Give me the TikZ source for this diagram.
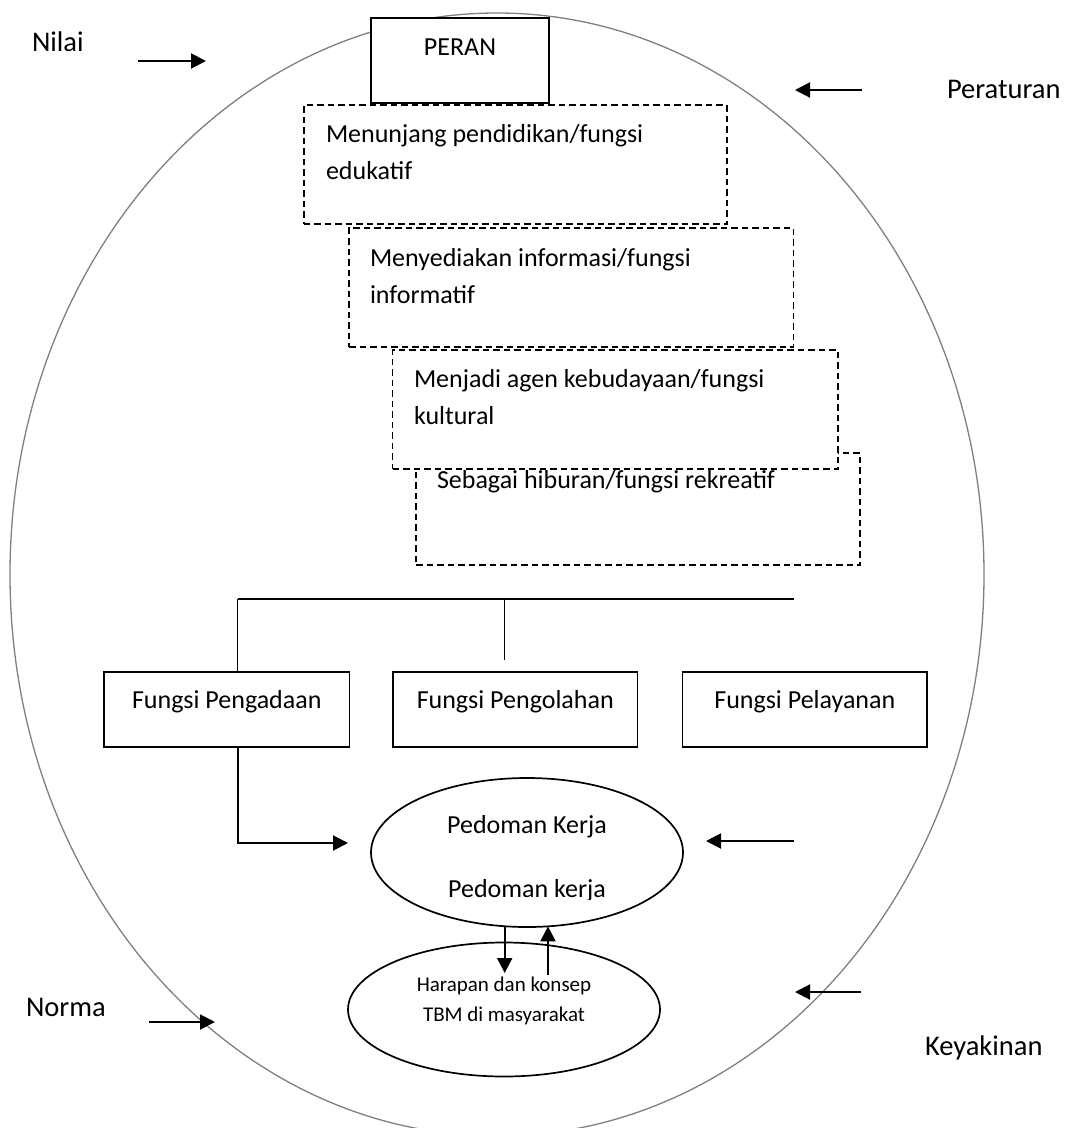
\documentclass[tikz,border=0pt]{standalone}
\usepackage{fontspec}
\setmainfont{Carlito}
\usetikzlibrary{arrows.meta,shapes.geometric}
\definecolor{ringgray}{RGB}{128,128,128}
\begin{document}
\begin{tikzpicture}[x=1pt,y=-1pt,
  every node/.style={inner sep=0pt, outer sep=0pt},
  txtbig/.style={font=\fontsize{28.5}{34}\selectfont, anchor=base west},
  txtbox/.style={font=\fontsize{26}{31}\selectfont, anchor=base west},
  txtmid/.style={font=\fontsize{26}{31}\selectfont, anchor=base},
  txtsmall/.style={font=\fontsize{21}{25}\selectfont, anchor=base},
  solidbox/.style={draw, line width=1.7pt, fill=white, anchor=north west},
  dashbox/.style={draw, dash pattern=on 6.5pt off 4pt, line width=1.7pt, fill=white, anchor=north west},
  ellbox/.style={draw, ellipse, line width=1.7pt, fill=white},
  conn/.style={line width=1.7pt},
  arr/.style={line width=2pt, -{Triangle[length=15pt,width=15pt]}}
]
\clip (0,0) rectangle (1070,1128);
\fill[white] (0,0) rectangle (1070,1128);

% big ring
\node[draw=ringgray, line width=1.3pt, ellipse, minimum width=974, minimum height=1123] (ring) at (497,574.5) {};

% PERAN
\node[solidbox, line width=2.6pt, minimum width=178, minimum height=85] (peran) at (371,18) {};
\node[txtmid] (peranT) at (460,55) {PERAN};

% dashed boxes
\node[dashbox, minimum width=423, minimum height=119] (b1) at (303.7,105) {};
\node[dashbox, minimum width=444.6, minimum height=119] (b2) at (349,228) {};
\node[dashbox, minimum width=444, minimum height=112] (b4) at (416,453) {};
\node[dashbox, minimum width=445.5, minimum height=119] (b3) at (392.5,350) {};

\node[txtbox] (b1a) at (326,142) {Menunjang pendidikan/fungsi};
\node[txtbox] (b1b) at (326,179.5) {edukatif};
\node[txtbox] (b2a) at (370,266) {Menyediakan informasi/fungsi};
\node[txtbox] (b2b) at (370,303) {informatif};
\node[txtbox] (b3a) at (414,387) {Menjadi agen kebudayaan/fungsi};
\node[txtbox] (b3b) at (414,424) {kultural};
\node[txtbox] (b4a) at (437,488) {Sebagai hiburan/fungsi rekreatif};

% function boxes
\node[solidbox, minimum width=245.5, minimum height=75] (f1) at (104,672) {};
\node[solidbox, minimum width=244.5, minimum height=75] (f2) at (393,672) {};
\node[solidbox, minimum width=244.4, minimum height=75] (f3) at (682.6,672) {};
\node[txtmid] (f1t) at (f1.north |- 0,708) {Fungsi Pengadaan};
\node[txtmid] (f2t) at (f2.north |- 0,708) {Fungsi Pengolahan};
\node[txtmid] (f3t) at (f3.north |- 0,708) {Fungsi Pelayanan};

% bus
\coordinate (busL) at (237.5,599);
\coordinate (busR) at (794,599);
\coordinate (busM) at (504.5,599);
\coordinate (tickEnd) at (504.5,660);
\draw[conn] (busL) -- (busR);
\draw[conn] (busM) -- (tickEnd);
\draw[conn] (busL) -- (busL |- f1.north);

% ellipses
\node[ellbox, minimum width=312, minimum height=149] (ped) at (527,852.5) {};
\node[ellbox, minimum width=312, minimum height=134] (har) at (504,1009.5) {};
\node[txtmid] (pedA) at (527,833) {Pedoman Kerja};
\begin{scope}
\clip (0,0) rectangle (1070,899);
\node[txtmid] (pedB) at (527,897) {Pedoman kerja};
\end{scope}
\node[txtsmall] (harA) at (504,991) {Harapan dan konsep};
\node[txtsmall] (harB) at (504,1021) {TBM di masyarakat};

% feed from Fungsi Pengadaan to Pedoman
\coordinate (feedTip) at (348,843);
\draw[arr] (busL |- f1.south) -- (busL |- feedTip) -- (feedTip);

% arrows between ellipses
\coordinate (dEnd) at (504.7,973);
\coordinate (uStart) at (548,975);
\draw[arr] (dEnd |- ped.253) -- (dEnd);
\draw[arr] (uStart) -- (uStart |- ped.286);

% outer labels
\node[txtbig] (nilai) at (32,51) {Nilai};
\node[txtbig] (peraturan) at (947,98) {Peraturan};
\node[txtbig] (norma) at (26,1016) {Norma};
\node[txtbig] (keyakinan) at (925,1055) {Keyakinan};

\coordinate (nA) at (138,61);  \coordinate (nB) at (206,61);
\coordinate (pA) at (862,90);  \coordinate (pB) at (795,90);
\coordinate (mA) at (794,841); \coordinate (mB) at (706,841);
\coordinate (oA) at (149,1022); \coordinate (oB) at (215,1022);
\coordinate (kA) at (861,992); \coordinate (kB) at (795,992);
\draw[arr] (nA) -- (nB);
\draw[arr] (pA) -- (pB);
\draw[arr] (mA) -- (mB);
\draw[arr] (oA) -- (oB);
\draw[arr] (kA) -- (kB);
\end{tikzpicture}
\end{document}
